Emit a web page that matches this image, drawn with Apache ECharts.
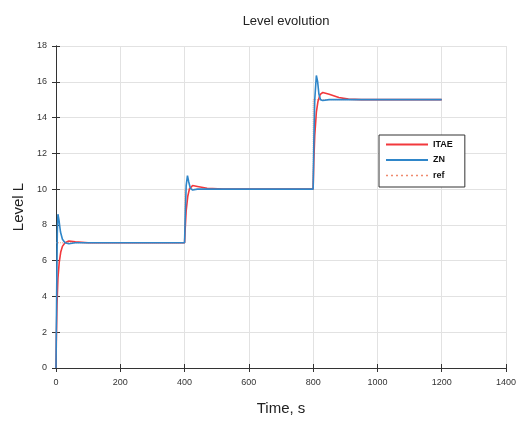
<!DOCTYPE html>
<html>
<head>
<meta charset="utf-8">
<script src="https://cdn.jsdelivr.net/npm/echarts@6/dist/echarts.min.js"></script>
<style>
  html, body { margin: 0; padding: 0; background: #fff; }
  #chart { width: 520px; height: 421px; }
</style>
</head>
<body>
<div id="chart"></div>
<script>
// values
const itaeTime = [0, 1, 3, 6, 10, 15, 20, 28, 40, 60, 100, 400, 402, 405, 410, 415, 425, 440, 470, 520, 800, 802, 805, 810, 815, 822, 830, 850, 880, 910, 950, 1200];
const itaeLevel = [0, 1.5, 3.5, 5.0, 5.9, 6.5, 6.8, 7.0, 7.1, 7.05, 7.0, 7.0, 7.8, 8.8, 9.6, 10.0, 10.2, 10.15, 10.05, 10.0, 10.0, 11.5, 13.0, 14.3, 14.9, 15.3, 15.4, 15.3, 15.12, 15.03, 15.0, 15.0];

const znTime = [0, 2, 4, 6, 9, 14, 20, 28, 40, 60, 400, 402, 405, 409, 413, 418, 425, 440, 800, 802, 805, 810, 814, 818, 823, 830, 850, 1200];
const znLevel = [0, 4.0, 7.5, 8.6, 8.3, 7.6, 7.2, 7.0, 6.95, 7.0, 7.0, 8.5, 10.2, 10.75, 10.4, 10.05, 9.95, 10.0, 10.0, 12.5, 15.0, 16.35, 16.0, 15.3, 15.0, 14.95, 15.0, 15.0];

const refTime = [0, 400, 400, 800, 800, 1200];
const refLevel = [7, 7, 10, 10, 15, 15];

const xTicks = [0, 200, 400, 600, 800, 1000, 1200, 1400];

const pairs = (t, v) => t.map((x, i) => [x, v[i]]);

const chart = echarts.init(document.getElementById('chart'));

const fontFam = 'Liberation Sans, Arial, sans-serif';
// legend icons: a plain line and a dotted line
const lineIcon = 'path://M0,0L42,0L42,2L0,2Z';
const dotIcon = 'path://M0,0L2,0L2,1.4L0,1.4ZM5,0L7,0L7,1.4L5,1.4ZM10,0L12,0L12,1.4L10,1.4ZM15,0L17,0L17,1.4L15,1.4ZM20,0L22,0L22,1.4L20,1.4ZM25,0L27,0L27,1.4L25,1.4ZM30,0L32,0L32,1.4L30,1.4ZM35,0L37,0L37,1.4L35,1.4ZM40,0L42,0L42,1.4L40,1.4Z';

chart.setOption({
  animation: false,
  title: {
    text: 'Level evolution',
    left: 281,
    top: 10,
    textAlign: 'center',
    textStyle: { fontFamily: fontFam, fontSize: 13, fontWeight: 'normal', color: '#222' }
  },
  legend: {
    orient: 'vertical',
    left: 379,
    top: 135,
    itemWidth: 42,
    itemHeight: 10,
    itemGap: 6.5,
    padding: [5, 12, 7, 7],
    borderColor: '#333',
    borderWidth: 1,
    backgroundColor: '#fff',
    textStyle: { fontFamily: fontFam, fontSize: 9, fontWeight: 'bold', color: '#111', padding: [0, 0, 0, 0] },
    data: [
      { name: 'ITAE', icon: lineIcon, itemStyle: { color: '#f2383c' } },
      { name: 'ZN', icon: lineIcon, itemStyle: { color: '#2f86c9' } },
      { name: 'ref', icon: dotIcon, itemStyle: { color: '#f08a6e' } }
    ]
  },
  grid: { left: 56, right: 14, top: 46, bottom: 52, containLabel: false },
  xAxis: [{
    type: 'value',
    min: 0, max: 1400, interval: 200,
    name: 'Time, s',
    nameLocation: 'middle',
    nameGap: 33,
    nameTextStyle: { fontFamily: fontFam, fontSize: 15, color: '#222' },
    axisLine: { lineStyle: { color: '#333' } },
    axisTick: { inside: true, length: 4, lineStyle: { color: '#333' } },
    axisLabel: { fontFamily: fontFam, fontSize: 9, color: '#333', margin: 10,
      formatter: v => xTicks.includes(v) ? String(v) : '' },
    splitLine: { show: true, lineStyle: { color: '#e2e2e2' } }
  }, {
    type: 'value', position: 'top',
    min: 0, max: 1400, interval: 200,
    axisLine: { show: true, lineStyle: { color: '#333' } },
    axisTick: { inside: true, length: 4, lineStyle: { color: '#333' } },
    axisLabel: { show: false },
    splitLine: { show: false }
  }],
  yAxis: [{
    type: 'value',
    min: 0, max: 18, interval: 2,
    name: 'Level L',
    nameLocation: 'middle',
    nameGap: 28,
    nameTextStyle: { fontFamily: fontFam, fontSize: 15, color: '#222' },
    axisLine: { show: true, lineStyle: { color: '#333' } },
    axisTick: { show: true, inside: true, length: 4, lineStyle: { color: '#333' } },
    axisLabel: { fontFamily: fontFam, fontSize: 9, color: '#333', margin: 9 },
    splitLine: { show: true, lineStyle: { color: '#e2e2e2' } }
  }, {
    type: 'value', position: 'right',
    min: 0, max: 18, interval: 2,
    axisLine: { show: true, lineStyle: { color: '#333' } },
    axisTick: { show: true, inside: true, length: 4, lineStyle: { color: '#333' } },
    axisLabel: { show: false },
    splitLine: { show: false }
  }],
  series: [{
    name: 'ITAE',
    type: 'line',
    symbol: 'none',
    data: pairs(itaeTime, itaeLevel),
    lineStyle: { color: '#f2383c', width: 1.6 },
    itemStyle: { color: '#f2383c' },
    z: 3
  }, {
    name: 'ZN',
    type: 'line',
    symbol: 'none',
    data: pairs(znTime, znLevel),
    lineStyle: { color: '#2f86c9', width: 1.6 },
    itemStyle: { color: '#2f86c9' },
    z: 4
  }, {
    name: 'ref',
    type: 'line',
    symbol: 'none',
    data: pairs(refTime, refLevel),
    lineStyle: { color: '#f4a890', width: 1, type: 'dotted' },
    itemStyle: { color: '#f4a890' },
    z: 2
  }]
});
</script>
</body>
</html>
